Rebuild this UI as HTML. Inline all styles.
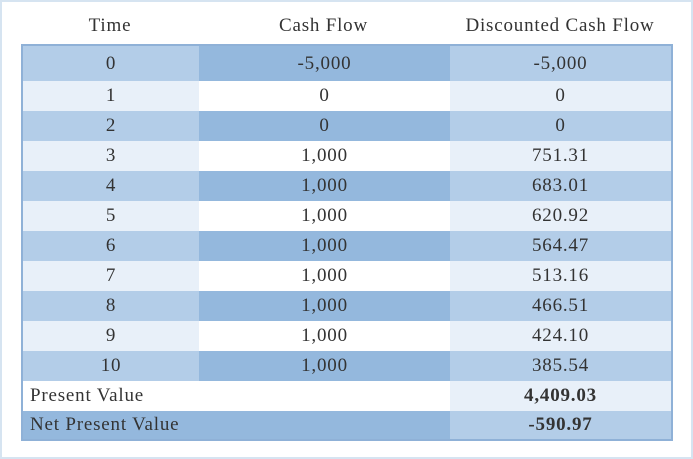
<!DOCTYPE html>
<html><head><meta charset="utf-8"><style>
html,body{margin:0;padding:0;background:#fff}
#frame{position:absolute;left:0;top:0;width:689px;height:455px;border:2px solid #d6e4f1;background:#fff;font-family:"Liberation Serif",serif;color:#333;letter-spacing:0.8px}
.h{position:absolute;top:13px;font-size:19px;text-align:center}
#tbl{position:absolute;left:19px;top:42px;width:652px;height:397px;border:2px solid #8fb1d7;box-sizing:border-box;background:#fff}
.row{position:absolute;left:0;width:648px;height:30px;font-size:19px}
.c{position:absolute;top:0;height:100%;display:flex;align-items:center;justify-content:center}
</style></head><body>
<div id="frame">
<div class="h" style="left:20px;width:176px">Time</div>
<div class="h" style="left:196px;width:251px">Cash Flow</div>
<div class="h" style="left:447px;width:222px">Discounted Cash Flow</div>
<div id="tbl"></div>
</div>
<script>
const times=["0","1","2","3","4","5","6","7","8","9","10"];
const cashFlows=["-5,000","0","0","1,000","1,000","1,000","1,000","1,000","1,000","1,000","1,000"];
const discounted=["-5,000","0","0","751.31","683.01","620.92","564.47","513.16","466.51","424.10","385.54"];
const presentValue="4,409.03";
const netPresentValue="-590.97";
const tbl=document.getElementById('tbl');
function cell(row,left,w,bg,text,name,opts){
  const d=document.createElement('div');
  d.className='c';
  
  
  d.style.left=left+'px';d.style.width=w+'px';d.style.background=bg;
  if(opts&&opts.left){d.style.justifyContent='flex-start';d.style.paddingLeft='7px';d.style.boxSizing='border-box';}
  if(opts&&opts.bold){d.style.fontWeight='bold';}
  d.textContent=text;row.appendChild(d);
}
function mkRow(i,top,h){
  const r=document.createElement('div');
  r.className='row';
  
  
  r.style.top=top+'px';r.style.height=h+'px';
  tbl.appendChild(r);return r;
}
let y=0;
for(let i=0;i<times.length;i++){
  const h=i===0?35:30;
  const r=mkRow(i,y,h);
  const odd=i%2===0;
  cell(r,0,176,odd?'#b3cde8':'#e8f0f9',times[i],'time-cell');
  cell(r,176,251,odd?'#94b8dd':'#ffffff',cashFlows[i],'cash-flow-cell');
  cell(r,427,221,odd?'#b3cde8':'#e8f0f9',discounted[i],'discounted-cell');
  y+=h;
}
let r=mkRow(11,y,30);
cell(r,0,427,'#ffffff','Present Value','present-value-label',{left:1});
cell(r,427,221,'#e8f0f9',presentValue,'present-value',{bold:1});
y+=30;
r=mkRow(12,y,28);
cell(r,0,427,'#94b8dd','Net Present Value','npv-label',{left:1});
cell(r,427,221,'#b3cde8',netPresentValue,'npv-value',{bold:1});
</script>
</body></html>
